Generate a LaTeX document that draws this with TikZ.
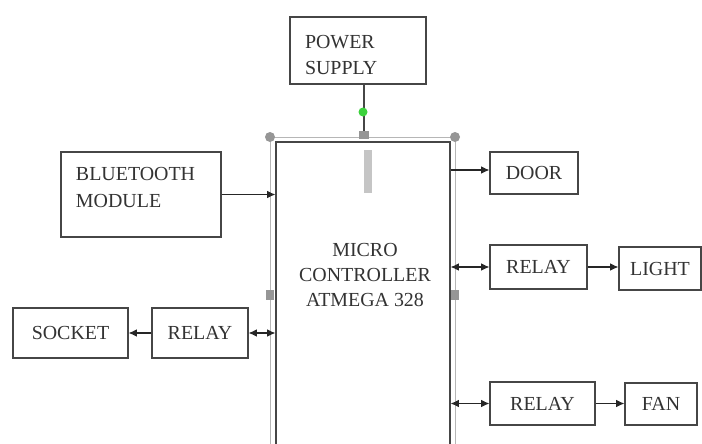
\documentclass[tikz,border=0pt]{standalone}
\usepackage{fontspec}
\setmainfont{Liberation Serif}
\usetikzlibrary{arrows.meta, positioning, calc}
\definecolor{lineblk}{RGB}{70,70,70}
\definecolor{handlegray}{RGB}{150,150,150}
\definecolor{handlegreen}{RGB}{60,210,60}
\tikzset{
  block/.style={rectangle, draw=lineblk, line width=1pt, fill=white, text=black!80, font=\fontsize{17}{21}\selectfont, inner sep=0pt},
  blockL/.style={block, align=left, text width=#1},
  arrow/.style={-{Latex[length=2.5mm, width=2.3mm]}, line width=0.9pt, draw=black!85},
  biarrow/.style={{Latex[length=2.5mm, width=2.3mm]}-{Latex[length=2.5mm, width=2.3mm]}, line width=0.9pt, draw=black!85},
  handle/.style={circle, fill=handlegray, inner sep=0pt, minimum size=0.3cm},
  grip/.style={rectangle, fill=handlegray, inner sep=0pt, minimum width=0.24cm, minimum height=0.3cm},
}

\begin{document}
\begin{tikzpicture}[x=0.03cm, y=-0.03cm]
\useasboundingbox (0,0) rectangle (702,443);
\clip (0,0) rectangle (702,443);
% selection frame round the controller
\draw[handlegray!70, line width=0.8pt] (270,470) -- (270,137) -- (455,137) -- (455,470);
% blocks
\node (power)  [blockL=3.18cm, minimum width=4.08cm, minimum height=2.01cm] at (358,50.5) {\rule{0pt}{19pt}POWER\\[1pt]SUPPLY};
\node (mcu)    [block, minimum width=5.22cm, minimum height=9.6cm] at (363,302) {};
\node (mcutext) [block, draw=none, fill=none, align=center] at (365,275) {MICRO\\CONTROLLER\\ATMEGA 328};
\node (bt)     [blockL=3.9cm, minimum width=4.8cm, minimum height=2.55cm] at (141,194.5) {BLUETOOTH\\[2pt]MODULE\\[-9pt]\mbox{}};
\node (door)   [block, minimum width=2.64cm, minimum height=1.26cm] at (534,173) {DOOR};
\node (relayL) [block, minimum width=2.91cm, minimum height=1.32cm] at (538.5,267) {RELAY};
\node (light)  [block, minimum width=2.46cm, minimum height=1.29cm] at (660,268.5) {LIGHT};
\node (relayF) [block, minimum width=3.15cm, minimum height=1.29cm] at (542.5,403.5) {RELAY};
\node (fan)    [block, minimum width=2.16cm, minimum height=1.26cm] at (661,404) {FAN};
\node (relayS) [block, minimum width=2.88cm, minimum height=1.5cm] at (200,333) {RELAY};
\node (socket) [block, minimum width=3.45cm, minimum height=1.5cm] at (70.5,333) {SOCKET};
% handles
\node (hTL) [handle] at (270,137) {};
\node (hTR) [handle] at (455,137) {};
\node (gL)  [grip] at (270,295) {};
\node (gR)  [grip] at (455,295) {};
\node (gT)  [grip, minimum width=0.3cm, minimum height=0.24cm] at (364,135) {};
\node (bar) [rectangle, fill=handlegray!55, inner sep=0pt, minimum width=0.24cm, minimum height=1.3cm] at (368,171.5) {};
% connectors
\draw[lineblk, line width=1pt] (power.south -| gT) -- (gT.north);
\node (rot) [circle, fill=handlegreen, inner sep=0pt, minimum size=0.27cm] at (363,112) {};
\draw[arrow] (bt) -- (bt -| mcu.west);
\draw[arrow] (mcu.east |- 0,170) -- (door.west |- 0,170);
\draw[biarrow] (relayL -| mcu.east) -- (relayL);
\draw[arrow] (relayL) -- (relayL -| light.west);
\draw[biarrow] (relayF -| mcu.east) -- (relayF);
\draw[arrow] (relayF) -- (relayF -| fan.west);
\draw[biarrow] (relayS) -- (relayS -| mcu.west);
\draw[arrow] (relayS) -- (socket);
\end{tikzpicture}
\end{document}
